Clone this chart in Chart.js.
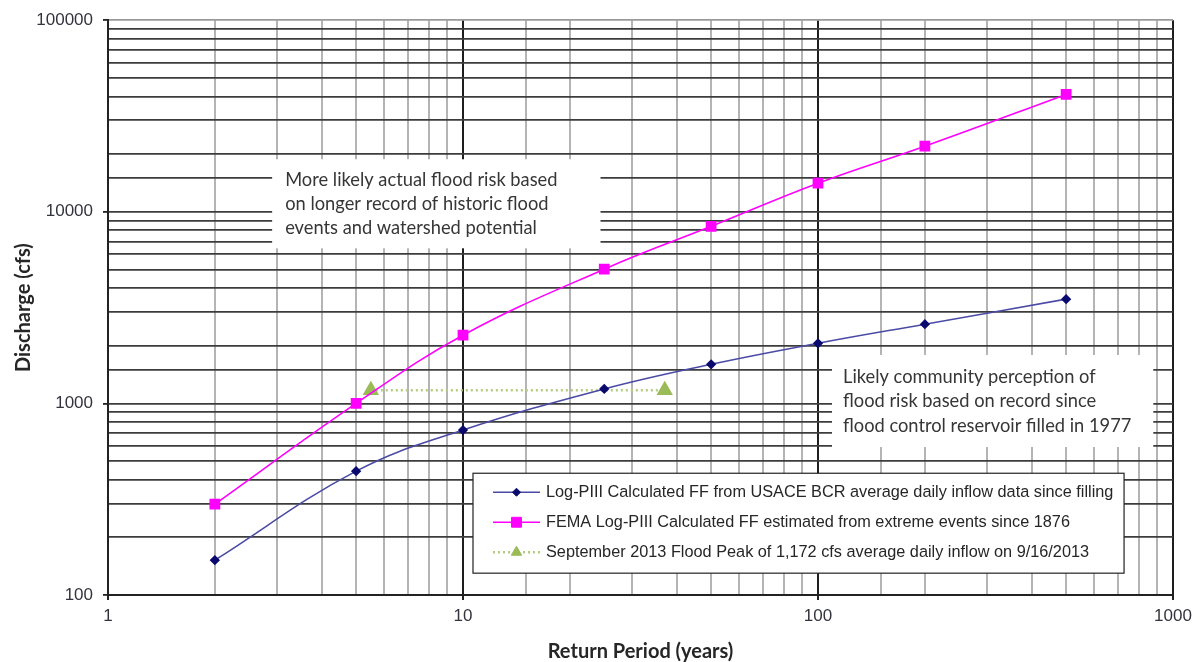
<!DOCTYPE html>
<html>
<head>
<meta charset="utf-8">
<script src="https://cdn.jsdelivr.net/npm/chart.js@4/dist/chart.umd.min.js"></script>
<style>
  html, body { margin: 0; padding: 0; background: #fff; }
  #wrap { width: 1202px; height: 662px; }
</style>
</head>
<body>
<div id="wrap"><canvas id="flood"></canvas></div>
<script>
// Flood frequency curves (return period in years vs discharge in cfs)
const returnPeriods = [2, 5, 10, 25, 50, 100, 200, 500];
const usaceFlows   = [152, 443, 726, 1190, 1600, 2060, 2590, 3500];
const femaFlows    = [298, 1000, 2270, 5020, 8400, 14100, 22000, 41000];
const septPeriods  = [5.5, 37];
const septPeak     = [1172, 1172];

const xTickLabels = [1, 10, 100, 1000];
const yTickLabels = [100, 1000, 10000, 100000];

const seriesNames = [
  'Log-PIII Calculated FF from USACE BCR average daily inflow data since filling',
  'FEMA Log-PIII Calculated FF estimated from extreme events since 1876',
  'September 2013 Flood Peak of 1,172 cfs average daily inflow on 9/16/2013'
];

const noteUpper = ['More likely actual flood risk based', 'on longer record of historic flood', 'events and watershed potential'];
const noteLower = ['Likely community perception of', 'flood risk based on record since', 'flood control reservoir filled in 1977'];

const BLUE_LINE = '#4b4ba6', BLUE_MARK = '#0a0a6e';
const PINK = '#ff00ff';
const GREEN = '#9bbb59', GREEN_LINE = '#b3cc80';

const SANS = '"Liberation Sans", Arial, sans-serif';
const NOTE_FONT = 'Lato, "Open Sans", sans-serif';

const isDecade = v => Math.abs(Math.log10(v) - Math.round(Math.log10(v))) < 1e-9;

// Boxes placed in data space: [xMin, xMax, yMax, yMin]
const boxes = {
  upper:  [2.9, 24.4, 18800, 6450],
  lower:  [109.5, 880, 1790, 592],
  legend: [10.67, 728, 432, 130]
};

function boxRect(chart, b) {
  const xs = chart.scales.x, ys = chart.scales.y;
  const l = xs.getPixelForValue(b[0]), r = xs.getPixelForValue(b[1]);
  const t = ys.getPixelForValue(b[2]), btm = ys.getPixelForValue(b[3]);
  return {l, t, w: r - l, h: btm - t};
}

const notesPlugin = {
  id: 'notes',
  beforeDatasetsDraw(chart) {
    const ctx = chart.ctx;
    ctx.save();
    ctx.font = '18.3px ' + NOTE_FONT;
    ctx.fillStyle = '#fff';
    ctx.textBaseline = 'middle';
    const up = boxRect(chart, boxes.upper);
    ctx.fillRect(up.l, up.t, up.w, up.h);
    const lo = boxRect(chart, boxes.lower);
    ctx.fillRect(lo.l, lo.t, lo.w, lo.h);
    ctx.fillStyle = '#363636';
    noteUpper.forEach((s, i) => ctx.fillText(s, up.l + 13, up.t + 21 + i * 24));
    noteLower.forEach((s, i) => ctx.fillText(s, lo.l + 11, lo.t + 22 + i * 24.5));
    ctx.restore();
  },
  afterDatasetsDraw(chart) {
    const ctx = chart.ctx;
    const lg = boxRect(chart, boxes.legend);
    ctx.save();
    ctx.fillStyle = '#fff';
    ctx.fillRect(lg.l, lg.t, lg.w, lg.h);
    ctx.strokeStyle = '#222';
    ctx.lineWidth = 1.2;
    ctx.strokeRect(lg.l, lg.t, lg.w, lg.h);
    const x0 = lg.l + 20, x1 = lg.l + 67, xm = (x0 + x1) / 2;
    chart.data.datasets.forEach((ds, i) => {
      const y = lg.t + 19 + i * 30;
      ctx.save();
      ctx.strokeStyle = ds.borderColor;
      ctx.lineWidth = ds.borderWidth;
      ctx.setLineDash(ds.borderDash || []);
      ctx.beginPath(); ctx.moveTo(x0, y); ctx.lineTo(x1, y); ctx.stroke();
      ctx.restore();
      ctx.fillStyle = ds.pointBackgroundColor;
      ctx.strokeStyle = ds.pointBorderColor;
      ctx.lineWidth = 1;
      Chart.helpers.drawPoint(ctx, {
        pointStyle: ds.pointStyle, radius: ds.legendRadius, borderWidth: 1, rotation: 0
      }, xm, y);
      ctx.fillStyle = '#262626';
      ctx.font = '16.3px ' + SANS;
      ctx.textBaseline = 'middle';
      ctx.fillText(seriesNames[i], lg.l + 73, y);
    });
    ctx.restore();
  }
};

const toPoints = (xs, ys) => xs.map((x, i) => ({x, y: ys[i]}));

new Chart(document.getElementById('flood'), {
  type: 'line',
  data: {
    datasets: [
      {
        label: seriesNames[0],
        data: toPoints(returnPeriods, usaceFlows),
        borderColor: BLUE_LINE, borderWidth: 1.6,
        pointStyle: 'rectRot', pointRadius: 4, legendRadius: 4,
        pointBackgroundColor: BLUE_MARK, pointBorderColor: BLUE_MARK,
        tension: 0.4
      },
      {
        label: seriesNames[1],
        data: toPoints(returnPeriods, femaFlows),
        borderColor: PINK, borderWidth: 1.6,
        pointStyle: 'rect', pointRadius: 6.5, legendRadius: 7,
        pointBackgroundColor: PINK, pointBorderColor: PINK,
        tension: 0.4
      },
      {
        label: seriesNames[2],
        data: toPoints(septPeriods, septPeak),
        borderColor: GREEN_LINE, borderWidth: 2.5, borderDash: [2, 3],
        pointStyle: 'triangle', pointRadius: 7, legendRadius: 6,
        pointBackgroundColor: GREEN, pointBorderColor: GREEN,
        tension: 0
      }
    ]
  },
  options: {
    responsive: true,
    maintainAspectRatio: false,
    animation: false,
    layout: { padding: { top: 20, right: 29, bottom: -6, left: 0 } },
    plugins: { legend: { display: false }, tooltip: { enabled: false } },
    scales: {
      x: {
        type: 'logarithmic', min: 1, max: 1000,
        afterFit: s => { s.height = 73; },
        border: { color: '#222', width: 2 },
        grid: {
          color: c => isDecade(c.tick.value) ? '#1e1e1e' : '#b4b4b4',
          lineWidth: 2,
          tickColor: c => isDecade(c.tick.value) ? '#222' : 'rgba(0,0,0,0)',
          tickLength: 5
        },
        ticks: {
          autoSkip: false, maxRotation: 0, padding: 6,
          color: '#33333f',
          font: { family: SANS, size: 17 },
          callback: v => xTickLabels.includes(v) ? String(v) : ''
        },
        title: {
          display: true, text: 'Return Period (years)',
          color: '#262626', padding: { top: 0 },
          font: { family: NOTE_FONT, size: 20, weight: 'bold' }
        }
      },
      y: {
        type: 'logarithmic', min: 100, max: 100000,
        afterFit: s => { s.width = 108; },
        border: { color: '#222', width: 2 },
        grid: {
          color: c => c.tick.value === 100000 ? '#9a9a9a' : '#3c3c3c',
          lineWidth: 1.8,
          tickColor: c => isDecade(c.tick.value) ? '#222' : 'rgba(0,0,0,0)',
          tickLength: 5
        },
        ticks: {
          autoSkip: false, padding: 10,
          color: '#33333f',
          font: { family: SANS, size: 17 },
          callback: v => yTickLabels.includes(v) ? String(v) : ''
        },
        title: {
          display: true, text: 'Discharge (cfs)',
          color: '#262626', padding: { top: 12 },
          font: { family: NOTE_FONT, size: 20, weight: 'bold' }
        }
      }
    }
  },
  plugins: [notesPlugin]
});
</script>
</body>
</html>
